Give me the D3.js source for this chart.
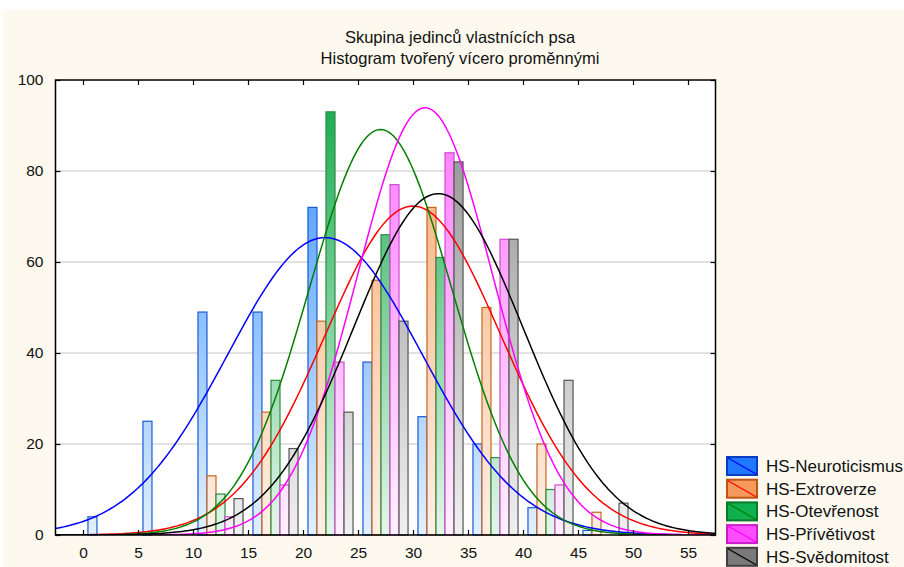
<!DOCTYPE html>
<html>
<head>
<meta charset="utf-8">
<script src="https://cdn.jsdelivr.net/npm/d3@7"></script>
<style>
  body { margin: 0; background: #fff; }
  svg { display: block; font-family: Arial, "Liberation Sans", sans-serif; }
</style>
</head>
<body>
<script>
// bins of width 5, labelled by their lower edge
var binStarts = [0, 5, 10, 15, 20, 25, 30, 35, 40, 45];
var binWidth = 5;

var seriesNames = ["HS-Neuroticismus", "HS-Extroverze", "HS-Otevřenost", "HS-Přívětivost", "HS-Svědomitost"];

// counts per bin
var neuroticismus = [4, 25, 49, 49, 72, 38, 26, 20, 6, 1];
var extroverze    = [0, 0, 13, 27, 47, 56, 72, 50, 20, 5];
var otevrenost    = [0, 0, 9, 34, 93, 66, 61, 17, 10, 0];
var privetivost   = [0, 0, 4, 11, 38, 77, 84, 65, 11, 0];
var svedomitost   = [0, 0, 8, 19, 27, 47, 82, 65, 34, 7];

// fitted normal curves (mean, sd), n = 290 cases
var fitMeans = [22.0, 30.0, 27.05, 31.1, 32.3];
var fitSds   = [8.85, 8.0, 6.49, 6.16, 7.71];
var nCases = 290;

var xTicks = [0, 5, 10, 15, 20, 25, 30, 35, 40, 45, 50, 55];
var yTicks = [0, 20, 40, 60, 80, 100];

var values = [neuroticismus, extroverze, otevrenost, privetivost, svedomitost];

var barTop    = ["#2f8cff", "#f5a468", "#10a84a", "#ff70ff", "#8a8a8a"];
var barBottom = ["#e2f0ff", "#fff0e6", "#e4f6ea", "#fff0ff", "#f0f0f0"];
var barStroke = ["#1a5ad8", "#c6661e", "#2e8a40", "#d248d2", "#555555"];
var legFill   = ["#1f78ff", "#f59a5a", "#0fb04e", "#ff4cff", "#7a7a7a"];
var legStroke = ["#0a3cc0", "#c05412", "#0a7a2a", "#c81ec8", "#404040"];
var lineColor = ["#0000ff", "#ff0000", "#008000", "#ff00ff", "#000000"];

var W = 904, H = 567;
var plot = {left: 55.5, right: 715.5, top: 80, bottom: 535};

var svg = d3.select("body").append("svg").attr("width", W).attr("height", H);

svg.append("rect").attr("x", 3).attr("y", 10).attr("width", W - 3).attr("height", H - 10)
  .attr("fill", "#fdf9ef");

var x = d3.scaleLinear().domain([-2.5, 57.5]).range([plot.left, plot.right]);
var y = d3.scaleLinear().domain([0, 100]).range([plot.bottom, plot.top]);
var inner = d3.scaleBand().domain(seriesNames)
  .range([0, x(binWidth) - x(0)]).paddingInner(0).paddingOuter(0.55);

var defs = svg.append("defs");
seriesNames.forEach(function(s, i) {
  var g = defs.append("linearGradient").attr("id", "grad" + i)
    .attr("gradientUnits", "userSpaceOnUse")
    .attr("x1", 0).attr("x2", 0).attr("y1", plot.top).attr("y2", plot.bottom);
  g.append("stop").attr("offset", "0%").attr("stop-color", barTop[i]);
  g.append("stop").attr("offset", "100%").attr("stop-color", barBottom[i]);
});
defs.append("clipPath").attr("id", "clip").append("rect")
  .attr("x", plot.left).attr("y", plot.top)
  .attr("width", plot.right - plot.left).attr("height", plot.bottom - plot.top);

svg.append("rect").attr("x", plot.left).attr("y", plot.top)
  .attr("width", plot.right - plot.left).attr("height", plot.bottom - plot.top)
  .attr("fill", "#ffffff");

// gridlines
svg.selectAll(".grid").data(yTicks.slice(1, -1)).enter().append("line")
  .attr("x1", plot.left).attr("x2", plot.right)
  .attr("y1", function(d) { return y(d); }).attr("y2", function(d) { return y(d); })
  .attr("stroke", "#d9d9d9").attr("stroke-width", 1.5);

// bars
var bars = [];
values.forEach(function(arr, i) {
  arr.forEach(function(v, j) {
    if (v > 0) bars.push({s: i, bin: binStarts[j], v: v});
  });
});
svg.append("g").selectAll("rect").data(bars).enter().append("rect")
  .attr("x", function(d) { return x(d.bin) + inner(seriesNames[d.s]); })
  .attr("y", function(d) { return y(d.v); })
  .attr("width", inner.bandwidth())
  .attr("height", function(d) { return y(0) - y(d.v); })
  .attr("fill", function(d) { return "url(#grad" + d.s + ")"; })
  .attr("stroke", function(d) { return barStroke[d.s]; })
  .attr("stroke-width", 1.2);

// normal fit curves
var xs = d3.range(-2.5, 57.51, 0.25);
var line = d3.line().x(function(p) { return x(p[0]); }).y(function(p) { return y(p[1]); });
var curves = svg.append("g").attr("clip-path", "url(#clip)");
fitMeans.forEach(function(m, i) {
  var sd = fitSds[i];
  var pts = xs.map(function(t) {
    var z = (t - m) / sd;
    return [t, nCases * binWidth * Math.exp(-0.5 * z * z) / (sd * Math.sqrt(2 * Math.PI))];
  });
  curves.append("path").attr("d", line(pts)).attr("fill", "none")
    .attr("stroke", lineColor[i]).attr("stroke-width", 1.5);
});

// frame and axes
svg.append("rect").attr("x", plot.left).attr("y", plot.top)
  .attr("width", plot.right - plot.left).attr("height", plot.bottom - plot.top)
  .attr("fill", "none").attr("stroke", "#000").attr("stroke-width", 1.5);

var xAxisB = d3.axisBottom(x).tickValues(xTicks).tickSize(-5).tickPadding(12);
var xAxisT = d3.axisTop(x).tickValues(xTicks).tickSize(-5).tickFormat("");
var yAxisL = d3.axisLeft(y).tickValues(yTicks).tickSize(-5).tickPadding(12);
var yAxisR = d3.axisRight(y).tickValues(yTicks).tickSize(-5).tickFormat("");

function styleAxis(g) {
  g.select(".domain").remove();
  g.selectAll(".tick line").attr("stroke", "#000").attr("stroke-width", 1.2);
  g.selectAll(".tick text").attr("fill", "#111").style("font-size", "15.5px");
}
svg.append("g").attr("transform", "translate(0," + plot.bottom + ")").call(xAxisB).call(styleAxis);
svg.append("g").attr("transform", "translate(0," + plot.top + ")").call(xAxisT).call(styleAxis);
svg.append("g").attr("transform", "translate(" + plot.left + ",0)").call(yAxisL).call(styleAxis);
svg.append("g").attr("transform", "translate(" + plot.right + ",0)").call(yAxisR).call(styleAxis);

// title
var titles = ["Skupina jedinců vlastnících psa", "Histogram tvořený vícero proměnnými"];
svg.selectAll(".title").data(titles).enter().append("text")
  .attr("x", 460).attr("y", function(d, i) { return 43 + i * 21; })
  .attr("text-anchor", "middle").style("font-size", "16.5px").attr("fill", "#111")
  .text(function(d) { return d; });

// legend
var leg = svg.append("g").attr("transform", "translate(727,457)");
var items = leg.selectAll("g").data(seriesNames).enter().append("g")
  .attr("transform", function(d, i) { return "translate(0," + (i * 22.7) + ")"; });
items.append("rect").attr("width", 30).attr("height", 18)
  .attr("fill", function(d, i) { return legFill[i]; })
  .attr("stroke", function(d, i) { return legStroke[i]; }).attr("stroke-width", 2);
items.append("line").attr("x1", 1).attr("y1", 1).attr("x2", 29).attr("y2", 17)
  .attr("stroke", function(d, i) { return lineColor[i]; }).attr("stroke-width", 1.2);
items.append("text").attr("x", 39).attr("y", 15)
  .style("font-size", "17px").attr("fill", "#111")
  .text(function(d) { return d; });
</script>
</body>
</html>
